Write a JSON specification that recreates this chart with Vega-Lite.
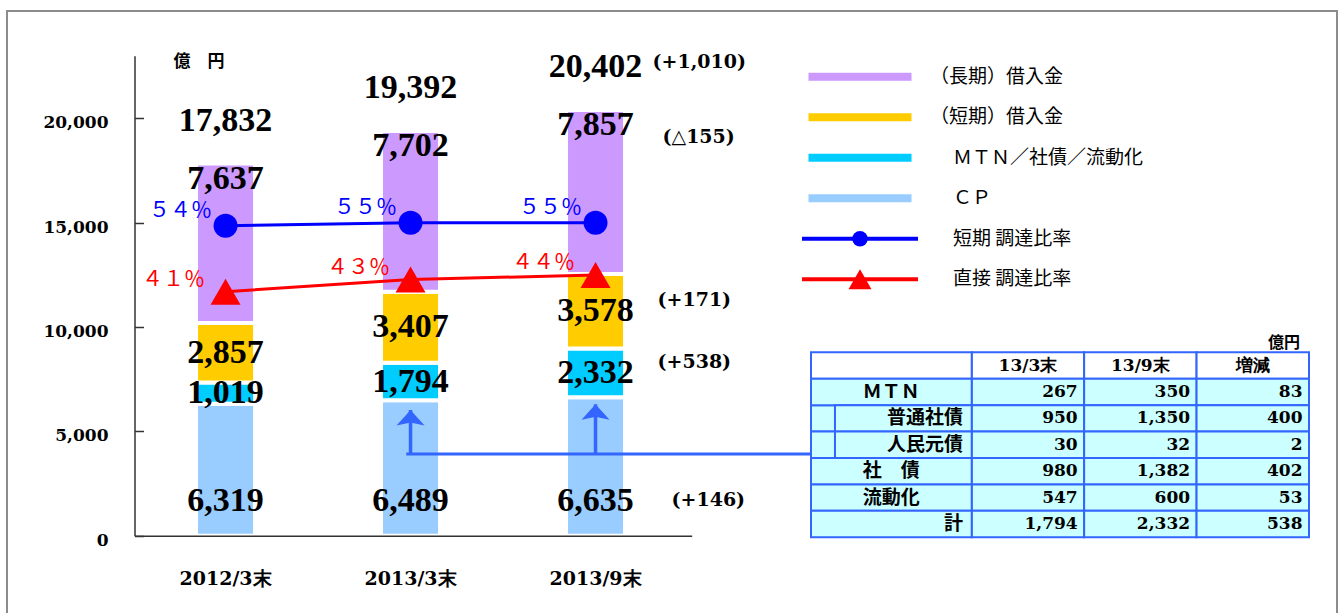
{
  "$schema": "https://vega.github.io/schema/vega-lite/v6.json",
  "autosize": "none",
  "width": 1330,
  "height": 605,
  "padding": {"left": 7, "top": 11, "right": 4, "bottom": -3},
  "background": "white",
  "config": {"view": {"stroke": "#8c8c8c", "strokeWidth": 2}},
  "datasets": {
    "segs": [
      {"period": "2012/3末", "series": "ＣＰ", "seq": 1, "value": 6319, "delta": ""},
      {"period": "2012/3末", "series": "ＭＴＮ／社債／流動化", "seq": 2, "value": 1019, "delta": ""},
      {"period": "2012/3末", "series": "（短期）借入金", "seq": 3, "value": 2857, "delta": ""},
      {"period": "2012/3末", "series": "（長期）借入金", "seq": 4, "value": 7637, "delta": ""},
      {"period": "2013/3末", "series": "ＣＰ", "seq": 1, "value": 6489, "delta": ""},
      {"period": "2013/3末", "series": "ＭＴＮ／社債／流動化", "seq": 2, "value": 1794, "delta": ""},
      {"period": "2013/3末", "series": "（短期）借入金", "seq": 3, "value": 3407, "delta": ""},
      {"period": "2013/3末", "series": "（長期）借入金", "seq": 4, "value": 7702, "delta": ""},
      {"period": "2013/9末", "series": "ＣＰ", "seq": 1, "value": 6635, "delta": "(+146)"},
      {"period": "2013/9末", "series": "ＭＴＮ／社債／流動化", "seq": 2, "value": 2332, "delta": "(+538)"},
      {"period": "2013/9末", "series": "（短期）借入金", "seq": 3, "value": 3578, "delta": "(+171)"},
      {"period": "2013/9末", "series": "（長期）借入金", "seq": 4, "value": 7857, "delta": "(△155)"}
    ],
    "totals": [
      {"period": "2012/3末", "total": 17832, "delta": ""},
      {"period": "2013/3末", "total": 19392, "delta": ""},
      {"period": "2013/9末", "total": 20402, "delta": "(+1,010)"}
    ],
    "arrows": [
      {"period": "2013/3末", "from": 3900, "to": 6023},
      {"period": "2013/9末", "from": 3900, "to": 6296}
    ],
    "rates": [
      {"period": "2012/3末", "series": "短期 調達比率", "rate": 54.0, "label": "５４％"},
      {"period": "2013/3末", "series": "短期 調達比率", "rate": 54.6, "label": "５５％"},
      {"period": "2013/9末", "series": "短期 調達比率", "rate": 54.6, "label": "５５％"},
      {"period": "2012/3末", "series": "直接 調達比率", "rate": 40.8, "label": "４１％"},
      {"period": "2013/3末", "series": "直接 調達比率", "rate": 43.24, "label": "４３％"},
      {"period": "2013/9末", "series": "直接 調達比率", "rate": 44.14, "label": "４４％"}
    ],
    "legend": [
      {"series": "（長期）借入金", "kind": "bar"},
      {"series": "（短期）借入金", "kind": "bar"},
      {"series": "ＭＴＮ／社債／流動化", "kind": "bar"},
      {"series": "ＣＰ", "kind": "bar"},
      {"series": "短期 調達比率", "kind": "line"},
      {"series": "直接 調達比率", "kind": "line"}
    ],
    "thead": [
      {"row": "hdr", "col": "13/3末"},
      {"row": "hdr", "col": "13/9末"},
      {"row": "hdr", "col": "増減"}
    ],
    "tcells": [
      {"row": "ＭＴＮ", "col": "13/3末", "value": 267},
      {"row": "ＭＴＮ", "col": "13/9末", "value": 350},
      {"row": "ＭＴＮ", "col": "増減", "value": 83},
      {"row": "普通社債", "col": "13/3末", "value": 950},
      {"row": "普通社債", "col": "13/9末", "value": 1350},
      {"row": "普通社債", "col": "増減", "value": 400},
      {"row": "人民元債", "col": "13/3末", "value": 30},
      {"row": "人民元債", "col": "13/9末", "value": 32},
      {"row": "人民元債", "col": "増減", "value": 2},
      {"row": "社　債", "col": "13/3末", "value": 980},
      {"row": "社　債", "col": "13/9末", "value": 1382},
      {"row": "社　債", "col": "増減", "value": 402},
      {"row": "流動化", "col": "13/3末", "value": 547},
      {"row": "流動化", "col": "13/9末", "value": 600},
      {"row": "流動化", "col": "増減", "value": 53},
      {"row": "計", "col": "13/3末", "value": 1794},
      {"row": "計", "col": "13/9末", "value": 2332},
      {"row": "計", "col": "増減", "value": 538}
    ],
    "trows": [
      {"row": "hdr", "level": 0},
      {"row": "ＭＴＮ", "level": 0},
      {"row": "普通社債", "level": 1},
      {"row": "人民元債", "level": 1},
      {"row": "社　債", "level": 0},
      {"row": "流動化", "level": 0},
      {"row": "計", "level": 0}
    ]
  },
  "resolve": {"scale": {"x": "independent", "y": "independent"}},
  "layer": [
    {
      "encoding": {
        "x": {
          "field": "period", "type": "nominal", "title": null,
          "scale": {"type": "band", "domain": ["2012/3末", "2013/3末", "2013/9末"], "range": [127.5, 684.7], "paddingInner": 0.681, "paddingOuter": 0.3465, "align": 0.48},
          "axis": {"orient": "bottom", "offset": -80.3, "ticks": false, "tickSize": 0, "labelPadding": 43, "labelBaseline": "middle", "labelAngle": 0, "labelFont": "DejaVu Serif", "labelFontWeight": "bold", "labelFontSize": 19, "labelColor": "black", "domainColor": "#333333", "domainWidth": 1.5, "zindex": 1}
        }
      },
      "layer": [
        {
          "data": {"name": "segs"},
          "mark": {"type": "bar", "stroke": "white", "strokeWidth": 4},
          "encoding": {
            "y": {
              "field": "value", "type": "quantitative", "title": "億　円",
              "scale": {"domain": [0, 23000], "range": [524.7, 44.7], "nice": false, "zero": true},
              "axis": {"values": [0, 5000, 10000, 15000, 20000], "format": ",d", "offset": -127.5, "tickSize": -9, "labelPadding": 35.5, "labelOffset": 4.5, "labelBaseline": "middle", "labelFont": "DejaVu Serif", "labelFontWeight": "bold", "labelFontSize": 17, "labelColor": "black", "domainColor": "#333333", "domainWidth": 1.5, "tickColor": "#333333", "tickWidth": 1.5, "grid": false, "zindex": 1, "titleAngle": 0, "titleAlign": "left", "titleBaseline": "middle", "titleX": 38.5, "titleY": 50.5, "titleFont": "Noto Sans CJK JP", "titleFontWeight": "bold", "titleFontSize": 17, "titleColor": "black"}
            },
            "color": {"field": "series", "type": "nominal", "legend": null, "scale": {"domain": ["（長期）借入金", "（短期）借入金", "ＭＴＮ／社債／流動化", "ＣＰ", "短期 調達比率", "直接 調達比率"], "range": ["#CC99FF", "#FFCC00", "#00CCFF", "#99CCFF", "#0000FF", "#FF0000"]}},
            "order": {"field": "seq", "type": "quantitative"}
          }
        },
        {
          "data": {"name": "arrows"},
          "mark": {"type": "rule", "color": "#3366FF", "strokeWidth": 3.5},
          "encoding": {
            "y": {"field": "from", "type": "quantitative", "title": "億　円"},
            "y2": {"field": "to"}
          }
        },
        {
          "data": {"name": "arrows"},
          "mark": {"type": "point", "shape": "M0,0L1,1.1L0.16,0.92L-0.16,0.92L-1,1.1Z", "size": 784, "filled": true, "opacity": 1, "color": "#3366FF", "strokeWidth": 0},
          "encoding": {"y": {"field": "to", "type": "quantitative", "title": "億　円"}}
        },
        {
          "data": {"name": "segs"},
          "mark": {"type": "text", "font": "Liberation Serif", "fontWeight": "bold", "fontSize": 34, "color": "black", "align": "center", "baseline": "middle"},
          "encoding": {
            "y": {"field": "value", "type": "quantitative", "stack": "zero", "bandPosition": 0.5, "title": "億　円"},
            "detail": {"field": "series", "type": "nominal"},
            "order": {"field": "seq", "type": "quantitative"},
            "text": {"condition": {"test": "datum.seq == 2 || datum.seq == 3", "field": "value", "type": "quantitative", "format": ",d"}, "value": ""}
          }
        },
        {
          "data": {"name": "segs"},
          "mark": {"type": "text", "font": "Liberation Serif", "fontWeight": "bold", "fontSize": 34, "color": "black", "align": "center", "baseline": "middle", "dy": -34.7},
          "encoding": {
            "y": {"field": "value", "type": "quantitative", "stack": "zero", "bandPosition": 0, "title": "億　円"},
            "detail": {"field": "series", "type": "nominal"},
            "order": {"field": "seq", "type": "quantitative"},
            "text": {"condition": {"test": "datum.seq == 1", "field": "value", "type": "quantitative", "format": ",d"}, "value": ""}
          }
        },
        {
          "data": {"name": "segs"},
          "mark": {"type": "text", "font": "Liberation Serif", "fontWeight": "bold", "fontSize": 34, "color": "black", "align": "center", "baseline": "middle", "dy": 15},
          "encoding": {
            "y": {"field": "value", "type": "quantitative", "stack": "zero", "bandPosition": 1, "title": "億　円"},
            "detail": {"field": "series", "type": "nominal"},
            "order": {"field": "seq", "type": "quantitative"},
            "text": {"condition": {"test": "datum.seq == 4", "field": "value", "type": "quantitative", "format": ",d"}, "value": ""}
          }
        },
        {
          "data": {"name": "totals"},
          "mark": {"type": "text", "font": "Liberation Serif", "fontWeight": "bold", "fontSize": 34, "color": "black", "align": "center", "baseline": "middle", "dy": -43},
          "encoding": {
            "y": {"field": "total", "type": "quantitative", "title": "億　円"},
            "text": {"field": "total", "type": "quantitative", "format": ",d"}
          }
        },
        {
          "data": {"name": "segs"},
          "mark": {"type": "text", "font": "DejaVu Serif", "fontWeight": "bold", "fontSize": 19, "color": "black", "align": "left", "baseline": "middle", "dx": 62, "dy": -11},
          "encoding": {
            "y": {"field": "value", "type": "quantitative", "stack": "zero", "bandPosition": 0.5, "title": "億　円"},
            "detail": {"field": "series", "type": "nominal"},
            "order": {"field": "seq", "type": "quantitative"},
            "text": {"condition": {"test": "datum.seq == 2 || datum.seq == 3", "field": "delta", "type": "nominal"}, "value": ""}
          }
        },
        {
          "data": {"name": "segs"},
          "mark": {"type": "text", "font": "DejaVu Serif", "fontWeight": "bold", "fontSize": 19, "color": "black", "align": "left", "baseline": "middle", "dx": 76, "dy": -35.7},
          "encoding": {
            "y": {"field": "value", "type": "quantitative", "stack": "zero", "bandPosition": 0, "title": "億　円"},
            "detail": {"field": "series", "type": "nominal"},
            "order": {"field": "seq", "type": "quantitative"},
            "text": {"condition": {"test": "datum.seq == 1", "field": "delta", "type": "nominal"}, "value": ""}
          }
        },
        {
          "data": {"name": "segs"},
          "mark": {"type": "text", "font": "DejaVu Serif", "fontWeight": "bold", "fontSize": 19, "color": "black", "align": "left", "baseline": "middle", "dx": 67, "dy": 27},
          "encoding": {
            "y": {"field": "value", "type": "quantitative", "stack": "zero", "bandPosition": 1, "title": "億　円"},
            "detail": {"field": "series", "type": "nominal"},
            "order": {"field": "seq", "type": "quantitative"},
            "text": {"condition": {"test": "datum.seq == 4", "field": "delta", "type": "nominal"}, "value": ""}
          }
        },
        {
          "data": {"name": "totals"},
          "mark": {"type": "text", "font": "DejaVu Serif", "fontWeight": "bold", "fontSize": 19, "color": "black", "align": "left", "baseline": "middle", "dx": 57, "dy": -48},
          "encoding": {
            "y": {"field": "total", "type": "quantitative", "title": "億　円"},
            "text": {"field": "delta", "type": "nominal"}
          }
        }
      ]
    },
    {
      "data": {"name": "rates"},
      "encoding": {
        "x": {"field": "period", "type": "nominal", "axis": null, "title": null, "scale": {"type": "band", "domain": ["2012/3末", "2013/3末", "2013/9末"], "range": [127.5, 684.7], "paddingInner": 0.681, "paddingOuter": 0.3465, "align": 0.48}},
        "y": {"field": "rate", "type": "quantitative", "axis": null, "title": null, "scale": {"domain": [0, 95], "range": [484.7, 9.7], "nice": false, "zero": false}},
        "color": {"field": "series", "type": "nominal", "legend": null, "scale": {"domain": ["（長期）借入金", "（短期）借入金", "ＭＴＮ／社債／流動化", "ＣＰ", "短期 調達比率", "直接 調達比率"], "range": ["#CC99FF", "#FFCC00", "#00CCFF", "#99CCFF", "#0000FF", "#FF0000"]}}
      },
      "layer": [
        {"mark": {"type": "line", "strokeWidth": 3}},
        {
          "transform": [{"filter": "datum.series === '短期 調達比率'"}],
          "mark": {"type": "point", "shape": "circle", "filled": true, "size": 576, "opacity": 1, "strokeWidth": 0}
        },
        {
          "transform": [{"filter": "datum.series === '直接 調達比率'"}],
          "mark": {"type": "point", "shape": "triangle-up", "filled": true, "size": 900, "opacity": 1, "strokeWidth": 0}
        },
        {
          "transform": [{"filter": "datum.series === '短期 調達比率'"}],
          "mark": {"type": "text", "font": "Noto Sans CJK JP", "fontSize": 21, "align": "center", "baseline": "middle", "dx": -45, "dy": -15},
          "encoding": {"text": {"field": "label", "type": "nominal"}}
        },
        {
          "transform": [{"filter": "datum.series === '直接 調達比率'"}],
          "mark": {"type": "text", "font": "Noto Sans CJK JP", "fontSize": 21, "align": "center", "baseline": "middle", "dx": -52, "dy": -12},
          "encoding": {"text": {"field": "label", "type": "nominal"}}
        }
      ]
    },
    {
      "data": {"name": "legend"},
      "encoding": {
        "y": {"field": "series", "type": "nominal", "axis": null, "title": null, "scale": {"type": "band", "domain": ["（長期）借入金", "（短期）借入金", "ＭＴＮ／社債／流動化", "ＣＰ", "短期 調達比率", "直接 調達比率"], "range": [45.45, 288.45], "paddingInner": 0, "paddingOuter": 0}}
      },
      "layer": [
        {
          "transform": [{"filter": "datum.kind === 'bar'"}],
          "mark": {"type": "rect", "width": {"band": 0.888}, "height": {"band": 0.2}},
          "encoding": {
            "x": {"datum": "swatch", "type": "nominal", "axis": null, "scale": {"type": "band", "domain": ["swatch", "label"], "range": [795, 1035], "paddingInner": 0.0645, "paddingOuter": 0}},
            "color": {"field": "series", "type": "nominal", "legend": null, "scale": {"domain": ["（長期）借入金", "（短期）借入金", "ＭＴＮ／社債／流動化", "ＣＰ", "短期 調達比率", "直接 調達比率"], "range": ["#CC99FF", "#FFCC00", "#00CCFF", "#99CCFF", "#0000FF", "#FF0000"]}}
          }
        },
        {
          "transform": [{"filter": "datum.kind === 'line'"}],
          "mark": {"type": "rect", "height": {"band": 0.1}},
          "encoding": {
            "x": {"datum": "swatch", "type": "nominal", "axis": null, "scale": {"type": "band", "domain": ["swatch", "label"], "range": [795, 1035], "paddingInner": 0.0645, "paddingOuter": 0}},
            "color": {"field": "series", "type": "nominal", "legend": null, "scale": {"domain": ["（長期）借入金", "（短期）借入金", "ＭＴＮ／社債／流動化", "ＣＰ", "短期 調達比率", "直接 調達比率"], "range": ["#CC99FF", "#FFCC00", "#00CCFF", "#99CCFF", "#0000FF", "#FF0000"]}}
          }
        },
        {
          "transform": [{"filter": "datum.series === '短期 調達比率'"}],
          "mark": {"type": "point", "shape": "circle", "filled": true, "size": 240, "opacity": 1, "strokeWidth": 0},
          "encoding": {
            "x": {"datum": "swatch", "type": "nominal", "axis": null, "scale": {"type": "band", "domain": ["swatch", "label"], "range": [795, 1035], "paddingInner": 0.0645, "paddingOuter": 0}},
            "color": {"field": "series", "type": "nominal", "legend": null, "scale": {"domain": ["（長期）借入金", "（短期）借入金", "ＭＴＮ／社債／流動化", "ＣＰ", "短期 調達比率", "直接 調達比率"], "range": ["#CC99FF", "#FFCC00", "#00CCFF", "#99CCFF", "#0000FF", "#FF0000"]}}
          }
        },
        {
          "transform": [{"filter": "datum.series === '直接 調達比率'"}],
          "mark": {"type": "point", "shape": "triangle-up", "filled": true, "size": 529, "opacity": 1, "strokeWidth": 0},
          "encoding": {
            "x": {"datum": "swatch", "type": "nominal", "axis": null, "scale": {"type": "band", "domain": ["swatch", "label"], "range": [795, 1035], "paddingInner": 0.0645, "paddingOuter": 0}},
            "color": {"field": "series", "type": "nominal", "legend": null, "scale": {"domain": ["（長期）借入金", "（短期）借入金", "ＭＴＮ／社債／流動化", "ＣＰ", "短期 調達比率", "直接 調達比率"], "range": ["#CC99FF", "#FFCC00", "#00CCFF", "#99CCFF", "#0000FF", "#FF0000"]}}
          }
        },
        {
          "transform": [{"filter": "indexof(datum.series, '（') === 0"}],
          "mark": {"type": "text", "font": "Noto Sans CJK JP", "fontSize": 19, "color": "black", "align": "left", "baseline": "middle", "dx": 4},
          "encoding": {
            "x": {"datum": "label", "type": "nominal", "bandPosition": 0, "axis": null, "scale": {"type": "band", "domain": ["swatch", "label"], "range": [795, 1035], "paddingInner": 0.0645, "paddingOuter": 0}},
            "text": {"field": "series", "type": "nominal"}
          }
        },
        {
          "transform": [{"filter": "indexof(datum.series, '（') !== 0"}],
          "mark": {"type": "text", "font": "Noto Sans CJK JP", "fontSize": 19, "color": "black", "align": "left", "baseline": "middle", "dx": 27},
          "encoding": {
            "x": {"datum": "label", "type": "nominal", "bandPosition": 0, "axis": null, "scale": {"type": "band", "domain": ["swatch", "label"], "range": [795, 1035], "paddingInner": 0.0645, "paddingOuter": 0}},
            "text": {"field": "series", "type": "nominal"}
          }
        }
      ]
    },
    {
      "encoding": {
        "x": {"field": "col", "type": "nominal", "axis": null, "title": null, "scale": {"type": "band", "domain": ["13/3末", "13/9末", "増減"], "range": [964.7, 1302], "paddingInner": 0, "paddingOuter": 0}},
        "y": {"field": "row", "type": "nominal", "axis": null, "title": null, "scale": {"type": "band", "domain": ["hdr", "ＭＴＮ", "普通社債", "人民元債", "社　債", "流動化", "計"], "range": [341.3, 526.3], "paddingInner": 0, "paddingOuter": 0}}
      },
      "layer": [
        {"data": {"name": "thead"}, "mark": {"type": "rect", "fill": "white", "stroke": "#3366FF", "strokeWidth": 2}},
        {
          "data": {"name": "thead"},
          "mark": {"type": "text", "font": "DejaVu Serif", "fontWeight": "bold", "fontSize": 17, "color": "black", "align": "center", "baseline": "middle"},
          "encoding": {"text": {"field": "col", "type": "nominal"}}
        },
        {"data": {"name": "tcells"}, "mark": {"type": "rect", "fill": "#CCFFFF", "stroke": "#3366FF", "strokeWidth": 2}},
        {
          "data": {"name": "tcells"},
          "mark": {"type": "text", "font": "DejaVu Serif", "fontWeight": "bold", "fontSize": 17, "color": "black", "align": "right", "baseline": "middle", "dx": -6.5},
          "encoding": {
            "x": {"field": "col", "type": "nominal", "bandPosition": 1},
            "text": {"field": "value", "type": "quantitative", "format": ",d"}
          }
        },
        {
          "data": {"values": [{"unit": "億円", "col": "増減", "row": "hdr"}]},
          "mark": {"type": "text", "font": "Noto Sans CJK JP", "fontWeight": "bold", "fontSize": 16, "color": "black", "align": "right", "baseline": "middle", "dx": -9, "dy": -9.5},
          "encoding": {
            "x": {"field": "col", "type": "nominal", "bandPosition": 1},
            "y": {"field": "row", "type": "nominal", "bandPosition": 0},
            "text": {"field": "unit", "type": "nominal"}
          }
        }
      ]
    },
    {
      "data": {"name": "trows"},
      "encoding": {
        "y": {"field": "row", "type": "nominal", "axis": null, "title": null, "scale": {"type": "band", "domain": ["hdr", "ＭＴＮ", "普通社債", "人民元債", "社　債", "流動化", "計"], "range": [341.3, 526.3], "paddingInner": 0, "paddingOuter": 0}},
        "x": {"field": "level", "type": "quantitative", "axis": null, "title": null, "scale": {"domain": [0, 6.7], "range": [804, 964.7], "nice": false, "zero": false}}
      },
      "layer": [
        {
          "mark": {"type": "rect", "fill": "#CCFFFF", "stroke": "#3366FF", "strokeWidth": 2},
          "encoding": {"x2": {"datum": 0}}
        },
        {
          "mark": {"type": "rect", "stroke": "#3366FF", "strokeWidth": 2},
          "encoding": {
            "x2": {"datum": 6.7},
            "fill": {"condition": {"test": "datum.row === 'hdr'", "value": "white"}, "value": "#CCFFFF"}
          }
        },
        {
          "transform": [{"filter": "indexof(['ＭＴＮ', '社　債', '流動化'], datum.row) >= 0"}],
          "mark": {"type": "text", "font": "Noto Sans CJK JP", "fontWeight": "bold", "fontSize": 19, "color": "black", "align": "center", "baseline": "middle"},
          "encoding": {
            "x": {"datum": 3.35, "type": "quantitative"},
            "text": {"field": "row", "type": "nominal"}
          }
        },
        {
          "transform": [{"filter": "indexof(['普通社債', '人民元債', '計'], datum.row) >= 0"}],
          "mark": {"type": "text", "font": "Noto Sans CJK JP", "fontWeight": "bold", "fontSize": 19, "color": "black", "align": "right", "baseline": "middle", "dx": -8.7},
          "encoding": {
            "x": {"datum": 6.7, "type": "quantitative"},
            "text": {"field": "row", "type": "nominal"}
          }
        },
        {
          "data": {"values": [{"link": "ＭＴＮ／社債／流動化 内訳", "row": "人民元債", "from": -16.875, "to": 0}]},
          "mark": {"type": "rule", "color": "#3366FF", "strokeWidth": 3},
          "encoding": {
            "x": {"field": "from", "type": "quantitative"},
            "x2": {"field": "to"},
            "y": {"field": "row", "type": "nominal", "bandPosition": 0.85}
          }
        }
      ]
    }
  ]
}
